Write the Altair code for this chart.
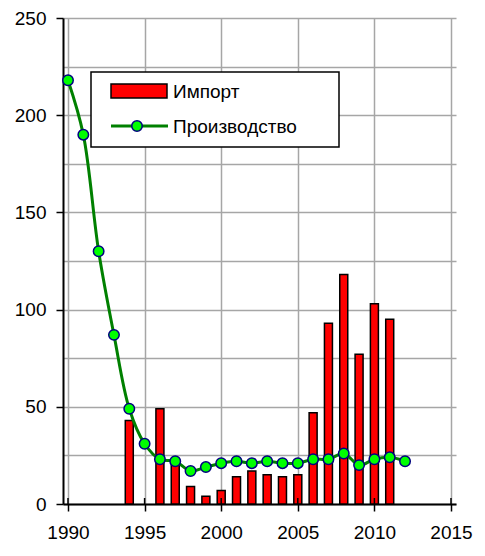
import altair as alt
import pandas as pd

# Data
prod_years = list(range(1990, 2013))
prod_values = [218, 190, 130, 87, 49, 31, 23, 22, 17, 19, 21, 22, 21, 22, 21, 21, 23, 23, 26, 20, 23, 24, 22]

imp_years = [1994, 1996, 1997, 1998, 1999, 2000, 2001, 2002, 2003, 2004, 2005,
             2006, 2007, 2008, 2009, 2010, 2011]
imp_values = [43, 49, 20, 9, 4, 7, 14, 17, 15, 14, 15, 47, 93, 118, 77, 103, 95]

x_ticks = [1990, 1995, 2000, 2005, 2010, 2015]
y_grid = list(range(0, 251, 25))
legend_labels = ["Импорт", "Производство"]

FONT = "Arial, Liberation Sans"
W, H = 393, 486

prod_df = pd.DataFrame({"year": prod_years, "value": prod_values})
imp_df = pd.DataFrame({"year": imp_years, "value": imp_values})
tick_df = pd.DataFrame({"year": x_ticks})

xscale = alt.Scale(domain=[1990, 2015], nice=False, zero=False)
yscale = alt.Scale(domain=[0, 250], nice=False)

xaxis = alt.Axis(values=x_ticks, format="d", title=None, grid=True,
                 gridColor="#a6a6a6", gridWidth=1.5, domainColor="black",
                 domainWidth=2, tickColor="black", tickWidth=1.5, tickSize=7,
                 labelFont=FONT, labelFontSize=19, labelColor="black",
                 labelPadding=12, labelFlush=False)
yaxis = alt.Axis(values=y_grid, title=None, grid=True, gridColor="#a6a6a6",
                 gridWidth=1.5, domainColor="black", domainWidth=2,
                 tickColor="black", tickWidth=1.5, tickSize=7,
                 tickOpacity={"condition": {"test": "datum.value % 50 === 0", "value": 1}, "value": 0},
                 labelExpr="datum.value % 50 === 0 ? datum.label : ''",
                 labelFont=FONT, labelFontSize=19, labelColor="black",
                 labelPadding=10, labelFlush=False)

bars = alt.Chart(imp_df).mark_bar(size=8, color="#ff0000", stroke="black",
                                  strokeWidth=1.5).encode(
    x=alt.X("year:Q", scale=xscale, axis=xaxis),
    y=alt.Y("value:Q", scale=yscale, axis=yaxis),
)

line = alt.Chart(prod_df).mark_line(color="#008000", strokeWidth=3,
                                    interpolate="catmull-rom").encode(
    x=alt.X("year:Q", scale=xscale),
    y=alt.Y("value:Q", scale=yscale),
)

points = alt.Chart(prod_df).mark_point(filled=True, size=110, fill="#00ff00",
                                       stroke="#000080", strokeWidth=1.5,
                                       opacity=1, shape="circle").encode(
    x=alt.X("year:Q", scale=xscale),
    y=alt.Y("value:Q", scale=yscale),
)

upticks = alt.Chart(tick_df).mark_rule(color="black", strokeWidth=1.5).encode(
    x=alt.X("year:Q", scale=xscale),
    y=alt.value(H - 6),
    y2=alt.value(H),
)

one = alt.Data(values=[{"a": 1}])
leg_box = alt.Chart(one).mark_rect(fill="white", stroke="black", strokeWidth=1.5).encode(
    x=alt.value(28), x2=alt.value(276), y=alt.value(54), y2=alt.value(129))
leg_swatch = alt.Chart(one).mark_rect(fill="#ff0000", stroke="black", strokeWidth=1.5).encode(
    x=alt.value(48), x2=alt.value(104), y=alt.value(66), y2=alt.value(80))
leg_line = alt.Chart(one).mark_rule(color="#008000", strokeWidth=3).encode(
    x=alt.value(48), x2=alt.value(105), y=alt.value(108))
leg_pt = alt.Chart(one).mark_point(filled=True, size=110, fill="#00ff00",
                                   stroke="#000080", strokeWidth=1.5, opacity=1).encode(
    x=alt.value(74), y=alt.value(108))
leg_t1 = alt.Chart(one).mark_text(text=legend_labels[0], align="left", baseline="middle",
                                  font=FONT, fontSize=19, color="black").encode(
    x=alt.value(110), y=alt.value(74))
leg_t2 = alt.Chart(one).mark_text(text=legend_labels[1], align="left", baseline="middle",
                                  font=FONT, fontSize=19, color="black").encode(
    x=alt.value(110), y=alt.value(109))

chart = alt.layer(bars, line, points, upticks, leg_box, leg_swatch, leg_line,
                  leg_pt, leg_t1, leg_t2).properties(
    width=W, height=H,
    autosize=alt.AutoSizeParams(type="none"),
    padding={"left": 55, "top": 10, "right": 20, "bottom": 38},
    background="white",
).configure_view(strokeWidth=0)

chart.save("out.html", embed_options={"renderer": "svg", "actions": False})
